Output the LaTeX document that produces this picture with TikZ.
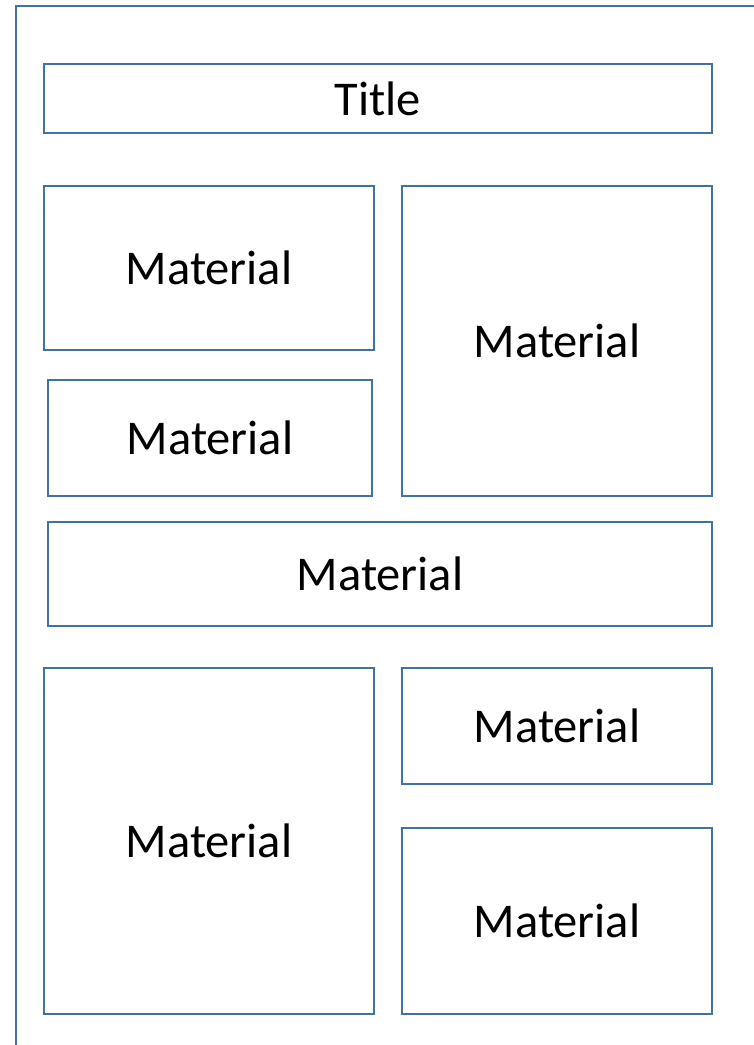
\documentclass[tikz,border=0pt]{standalone}
\usepackage{fontspec}
\setmainfont{Carlito}
\definecolor{frameblue}{RGB}{68,114,160}
\begin{document}
\begin{tikzpicture}[x=1pt,y=-1pt,
  panel/.style={draw=frameblue, line width=2.4pt, rectangle, inner sep=0pt, font=\fontsize{48.5}{58}\selectfont},
  ]
\useasboundingbox (0,0) rectangle (754,1045);
\coordinate (fa) at (16,1045);
\coordinate (fb) at (16,6);
\coordinate (fc) at (754,6);
\draw[frameblue, line width=2.4pt] (fa) -- (fb) -- (fc);
\newcommand{\panelbox}[6]{%
  \node[panel, minimum width={#4-#2}, minimum height={#5-#3}] (#1) at ({(#2+#4)/2},{(#3+#5)/2}) {#6};}
\panelbox{title}{44}{64}{712}{133}{Title}
\panelbox{m1}{44}{186}{374}{350}{Material}
\panelbox{m2}{48}{380}{372}{496}{Material}
\panelbox{m3}{402}{186}{712}{496}{Material}
\panelbox{m4}{48}{522}{712}{626}{Material}
\panelbox{m5}{44}{668}{374}{1014}{Material}
\panelbox{m6}{402}{668}{712}{784}{Material}
\panelbox{m7}{402}{828}{712}{1014}{Material}
\end{tikzpicture}
\end{document}
